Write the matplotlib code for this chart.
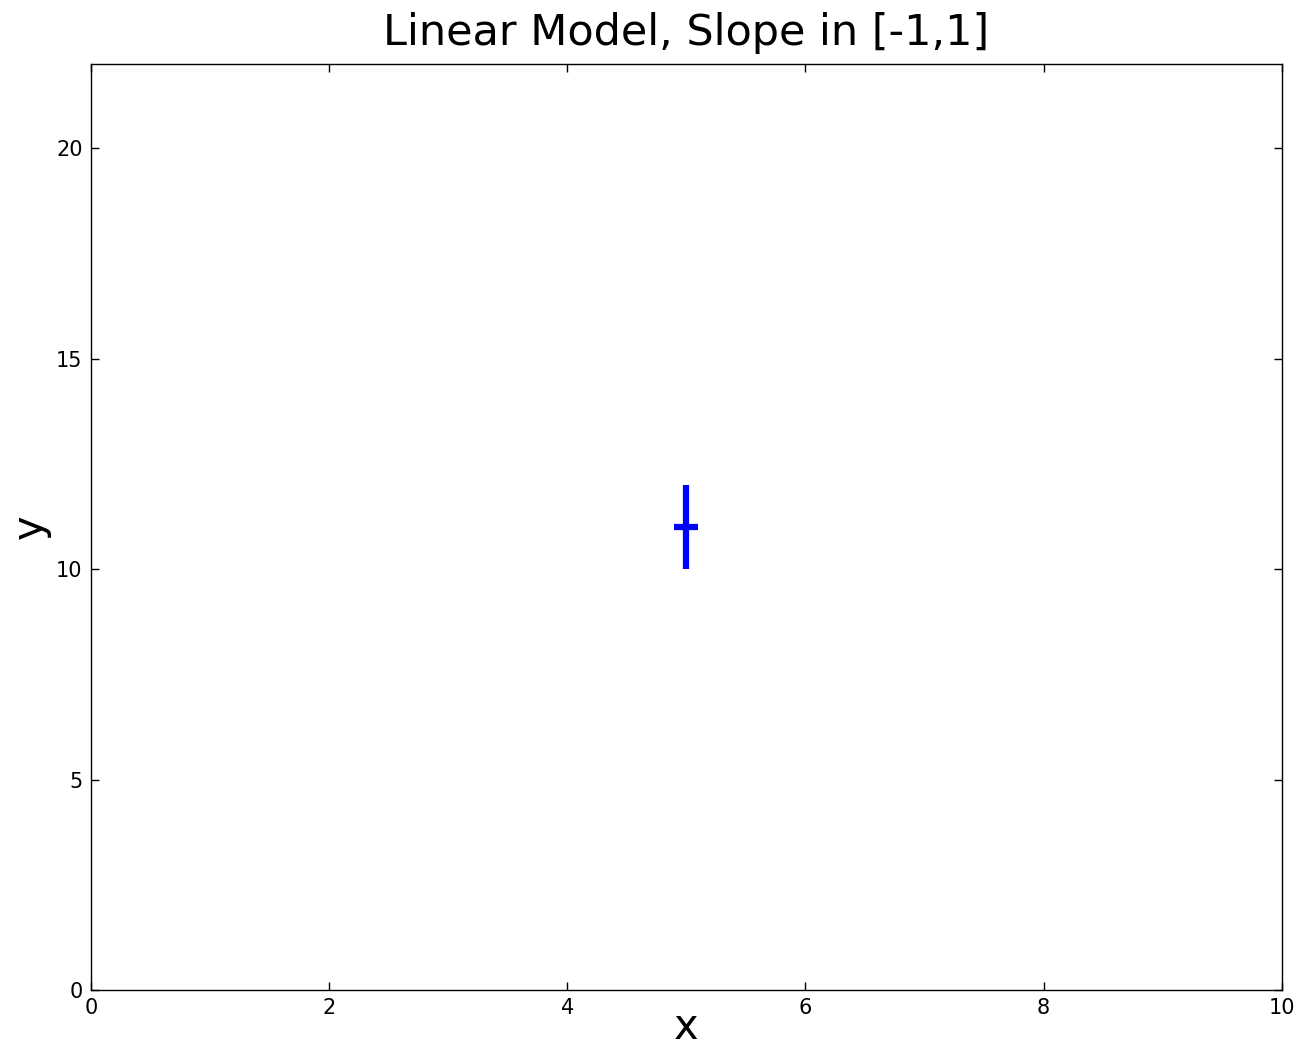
import matplotlib.pyplot as plt

# data
x = [5]
y = [11]
yerr = [1]

fig = plt.figure(figsize=(13, 10.5), dpi=100)
ax = fig.add_axes([0.07, 0.057, 0.916, 0.882])

ax.errorbar(x, y, yerr=yerr, fmt='_', color='b', ecolor='b',
            elinewidth=4.5, markersize=17, markeredgewidth=4.5, capsize=0)

ax.set_xlim(0, 10)
ax.set_ylim(0, 22)
ax.set_xticks([0, 2, 4, 6, 8, 10])
ax.set_yticks([0, 5, 10, 15, 20])
ax.tick_params(direction='in', top=True, right=True, length=6, width=1,
               labelsize=15, pad=6)
for s in ax.spines.values():
    s.set_linewidth(1)

ax.set_title("Linear Model, Slope in [-1,1]", fontsize=31, pad=14)
ax.set_xlabel("x", fontsize=30, labelpad=-9)
ax.set_ylabel("y", fontsize=30, labelpad=4)

fig.savefig("out.png", dpi=100)
